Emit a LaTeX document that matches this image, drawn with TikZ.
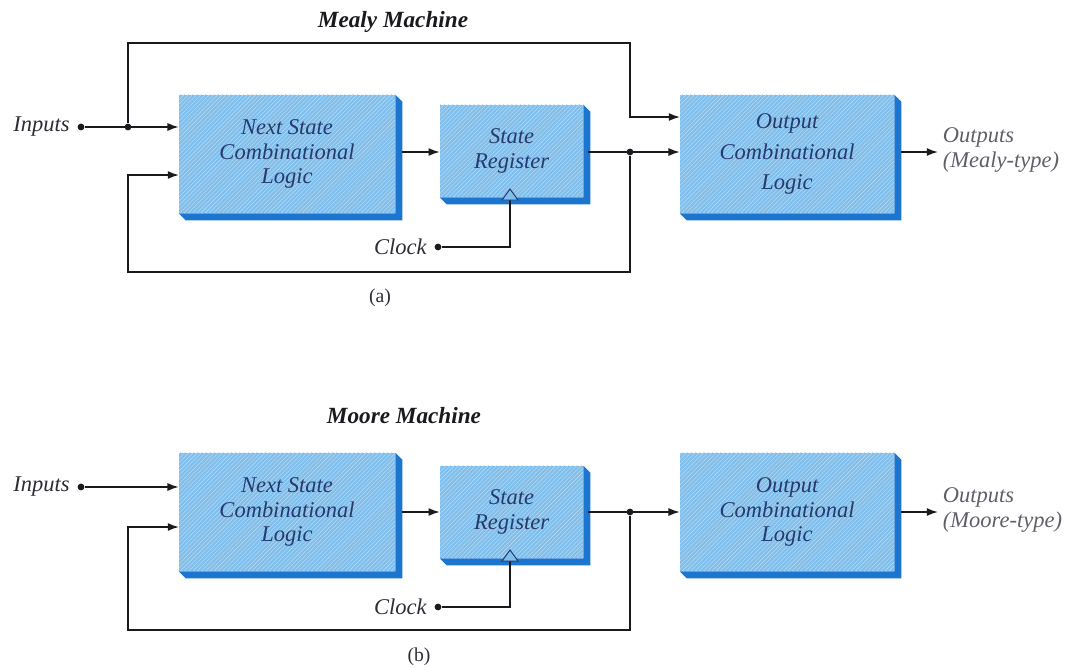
\documentclass[tikz,border=0pt]{standalone}
\usepackage{fontspec}
\setmainfont{Liberation Serif}
\usepackage{tikz}
\usetikzlibrary{arrows.meta, positioning, calc, patterns}
\definecolor{boxface}{RGB}{128,190,235}
\definecolor{boxside}{RGB}{28,118,208}
\definecolor{boxtext}{RGB}{38,58,108}
\definecolor{wirecol}{RGB}{25,25,30}
\definecolor{labelcol}{RGB}{45,45,55}
\definecolor{outcol}{RGB}{95,95,105}
\tikzset{
  logicbox/.style={rectangle, fill=boxface, text=boxtext, align=center,
    inner sep=0pt, font=\fontsize{16}{17.5}\selectfont\itshape,
    postaction={pattern=north east lines, pattern color=white!40!boxface}},
  nsbox/.style={logicbox, minimum width=5.4cm, minimum height=2.95cm},
  srbox/.style={logicbox, minimum width=3.575cm, minimum height=2.3cm},
  ocbox/.style={logicbox, minimum width=5.35cm, minimum height=2.95cm},
  wire/.style={line width=1.1pt, color=wirecol},
  arrow/.style={wire, -{Latex[length=2.8mm, width=2mm]}},
  joint/.style={circle, fill=wirecol, inner sep=0pt, minimum size=1.7mm},
  sigtext/.style={font=\fontsize{16}{18}\selectfont\itshape, text=labelcol},
  machinetitle/.style={font=\fontsize{16.5}{18}\selectfont\bfseries\itshape, text=wirecol},
  subcap/.style={font=\fontsize{14}{16}\selectfont, text=labelcol}
}
\newcommand{\extrude}[1]{%
  \fill[boxside] (#1.north east) -- ++(0.175cm,-0.175cm)
    -- ($(#1.south east)+(0.175cm,-0.175cm)$)
    -- ($(#1.south west)+(0.175cm,-0.175cm)$)
    -- (#1.south west) -- (#1.south east) -- cycle;}
\newcommand{\clocktri}[1]{%
  \draw[draw=boxtext, line width=0.7pt, fill=boxface] (#1) ++(-8,0) -- ++(8,-11) -- ++(8,11) -- cycle;}

\begin{document}
\begin{tikzpicture}[x=0.025cm, y=-0.025cm]
  \useasboundingbox (0,0) rectangle (1073,667);

  % Mealy machine blocks
  \node[machinetitle] (mealy) at (393,22) {Mealy Machine};
  \node[nsbox] (ns1) at (287,154) {Next State\\Combinational\\Logic};
  \node[srbox] (sr1) at (511.5,151) {State\\Register};
  \node[ocbox, font=\fontsize{16}{22}\selectfont\itshape] (oc1) at (787,154) {Output\\Combinational\\Logic};
  \extrude{ns1} \extrude{sr1} \extrude{oc1}

  % Mealy inputs, also fed forward over the top
  \node[joint] (in1) at (81,127) {};
  \node[sigtext, left=2pt of in1] (in1lbl) {Inputs};
  \node[joint] (j1) at (128,127) {};
  \coordinate (top1) at (630,43);
  \coordinate (oc1in) at (680,117);
  \draw[arrow] (in1) -- (in1 -| ns1.west);
  \draw[arrow] (j1) |- (top1) |- (oc1in);

  % Mealy state path and feedback
  \coordinate (ns1out) at (402,152);
  \coordinate (sr1out) at (588,152);
  \node[joint] (j2) at (630,152) {};
  \coordinate (fb1) at (128,272);
  \coordinate (ns1fb) at (179,175);
  \draw[arrow] (ns1out) -- (ns1out -| sr1.west);
  \draw[arrow] (sr1out) -- (sr1out -| oc1.west);
  \draw[arrow] (j2) |- (fb1) |- (ns1fb);

  % Mealy clock
  \node[joint] (clk1) at (438,247) {};
  \node[sigtext, left=2pt of clk1] (clk1lbl) {Clock};
  \coordinate (tri1) at (510,200);
  \draw[wire] (clk1) -| (tri1);
  \clocktri{tri1}

  % Mealy outputs
  \coordinate (oc1out) at (901,152);
  \node[sigtext, text=outcol, anchor=west, align=left] (out1) at (938,150) {Outputs\\(Mealy-type)};
  \draw[arrow] (oc1out) -- (oc1out -| out1.west);
  \node[subcap] (capa) at (380,298) {(a)};

  % Moore machine blocks
  \node[machinetitle] (moore) at (404,416) {Moore Machine};
  \node[nsbox] (ns2) at (287,512) {Next State\\Combinational\\Logic};
  \node[srbox] (sr2) at (511.5,512) {State\\Register};
  \node[ocbox] (oc2) at (787,512) {Output\\Combinational\\Logic};
  \extrude{ns2} \extrude{sr2} \extrude{oc2}

  % Moore inputs
  \node[joint] (in2) at (81,487) {};
  \node[sigtext, left=2pt of in2] (in2lbl) {Inputs};
  \draw[arrow] (in2) -- (in2 -| ns2.west);

  % Moore state path and feedback
  \coordinate (ns2out) at (402,512);
  \coordinate (sr2out) at (588,512);
  \node[joint] (j3) at (630,512) {};
  \coordinate (fb2) at (128,630);
  \coordinate (ns2fb) at (179,527);
  \draw[arrow] (ns2out) -- (ns2out -| sr2.west);
  \draw[arrow] (sr2out) -- (sr2out -| oc2.west);
  \draw[arrow] (j3) |- (fb2) |- (ns2fb);

  % Moore clock
  \node[joint] (clk2) at (438,607) {};
  \node[sigtext, left=2pt of clk2] (clk2lbl) {Clock};
  \coordinate (tri2) at (510,561);
  \draw[wire] (clk2) -| (tri2);
  \clocktri{tri2}

  % Moore outputs
  \coordinate (oc2out) at (901,512);
  \node[sigtext, text=outcol, anchor=west, align=left] (out2) at (938,510) {Outputs\\(Moore-type)};
  \draw[arrow] (oc2out) -- (oc2out -| out2.west);
  \node[subcap] (capb) at (419,657) {(b)};
\end{tikzpicture}
\end{document}
